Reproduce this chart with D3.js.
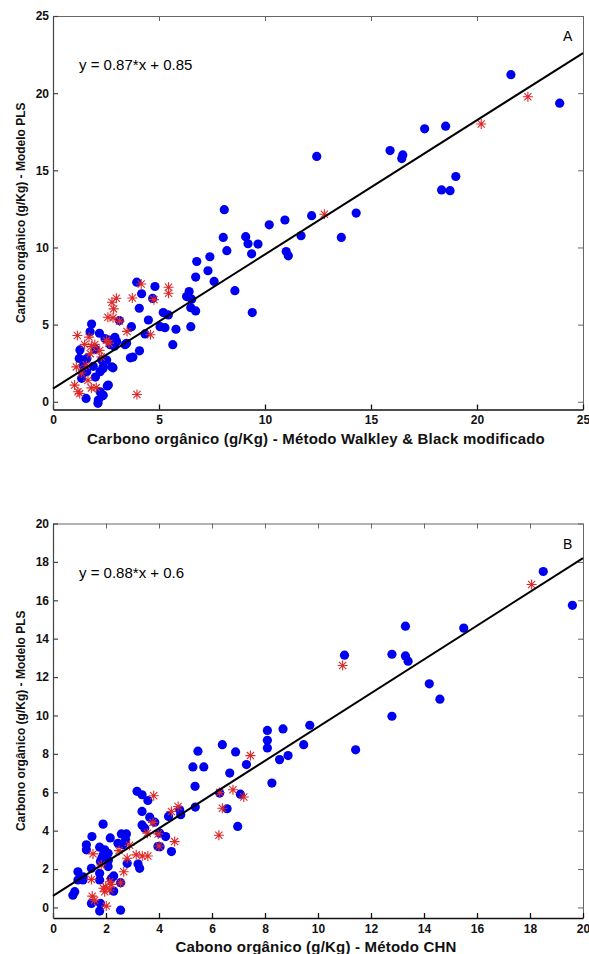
<!DOCTYPE html>
<html>
<head>
<meta charset="utf-8">
<script src="https://cdn.jsdelivr.net/npm/d3@7"></script>
<style>
  body { margin: 0; background: #fff; }
  text { font-family: "Liberation Sans", Arial, sans-serif; }
</style>
</head>
<body>
<div id="vis"></div>
<script>
const FRAME_WIDTH = 589;
const FRAME_HEIGHT = 954;

// panel A data (x = Walkley & Black, y = PLS model)
const A_BLUE = [
  [21.6,21.2],[23.9,19.35],[12.44,15.9],[15.9,16.28],[16.5,16.0],[16.45,15.76],[17.53,17.69],[18.52,17.86],
  [19.0,14.6],[18.33,13.73],[18.73,13.68],[12.2,12.06],[14.3,12.23],[13.6,10.65],[11.7,10.76],
  [8.08,12.45],[10.2,11.47],[10.94,11.78],[8.03,10.65],[9.09,10.7],[9.2,10.24],[9.67,10.22],[8.2,9.79],
  [9.37,9.59],[11.0,9.74],[11.1,9.46],[6.78,9.09],[7.4,9.4],[7.31,8.49],[6.73,8.08],[7.6,7.8],[8.58,7.2],
  [4.81,7.47],[6.42,7.14],[6.3,6.82],[6.54,6.65],[6.5,6.1],[6.73,5.89],[9.4,5.78],[5.2,5.78],[5.44,5.63],
  [5.05,4.87],[5.28,4.8],[5.8,4.7],[6.5,4.87],
  [3.95,7.75],[4.18,7.0],[4.7,6.7],[4.07,6.06],[4.5,5.3],[3.13,5.26],[3.7,4.87],[4.34,4.4],[3.4,3.7],
  [4.08,3.3],[3.65,2.85],[3.77,2.9],[5.65,3.7],
  [1.82,5.04],[1.75,4.54],[2.19,4.44],[2.45,4.1],[2.66,4.0],[2.92,4.18],[3.0,3.9],[3.47,3.79],[1.27,3.36],
  [1.24,2.81],[1.43,2.32],[1.59,1.95],[1.35,1.52],[2.3,2.7],[2.37,2.27],[2.53,2.7],[2.77,2.27],[2.22,1.95],
  [2.61,1.08],[2.22,0.65],[2.37,0.43],[2.14,0.11],[1.56,0.22],[2.12,-0.1],[2.31,0.37],[2.0,3.4],[1.6,2.8],
  [1.9,2.3],[2.0,1.6],[1.41,1.83],[2.36,2.15],[2.83,2.2],[2.56,1.03],[2.7,3.7],[2.9,3.6]
];
const A_RED = [
  [12.8,12.15],[20.2,18.0],[22.4,19.77],[4.16,7.63],[5.45,7.42],[5.45,7.03],[4.76,6.62],[3.74,6.73],
  [2.99,6.71],[2.78,6.45],[2.86,6.02],[2.59,5.48],[2.83,5.44],[3.14,5.23],[3.49,4.56],[4.6,4.34],
  [1.15,4.3],[1.7,4.19],[1.49,3.72],[1.81,3.59],[1.97,3.72],[2.52,3.98],[2.64,3.8],[2.2,3.33],[1.76,3.12],
  [2.28,2.9],[1.1,2.26],[1.34,1.87],[1.57,2.37],[1.65,1.4],[1.02,1.08],[1.18,0.65],[1.26,0.54],
  [1.81,0.9],[2.04,0.92],[3.96,0.47]
];

// panel B data (x = CHN, y = PLS model)
const B_BLUE = [
  [18.5,17.5],[19.6,15.74],[13.3,14.65],[15.5,14.55],[11.0,13.14],[12.79,13.19],[13.3,13.1],[13.4,12.83],
  [14.2,11.65],[14.6,10.85],[12.79,9.96],[11.42,8.21],
  [9.69,9.49],[9.46,8.48],[8.87,7.91],[8.55,7.7],[8.68,9.3],[8.09,9.22],[8.09,8.71],[8.09,8.31],[8.26,6.48],
  [6.89,8.1],[6.39,8.48],[6.67,7.0],[7.3,7.44],[7.07,5.9],[6.97,4.22],[6.57,5.14],[6.29,5.96],[5.47,8.14],
  [5.28,7.32],[5.69,7.32],[5.36,6.31],[5.37,5.23],[4.78,5.09],[4.82,4.83],[4.36,4.74],
  [3.17,6.05],[3.36,5.87],[3.58,5.57],[3.36,5.0],[3.65,4.7],[3.36,4.3],[3.46,4.13],[3.84,4.44],[4.03,3.87],
  [4.25,3.69],[3.96,3.17],[4.47,2.91],[3.21,2.26],[3.27,2.04],[2.8,2.3],
  [1.89,4.34],[1.47,3.69],[1.26,3.26],[1.26,3.0],[2.16,3.62],[2.45,3.34],[2.58,3.83],[2.77,3.83],[2.74,3.52],
  [2.64,3.26],[1.76,3.14],[1.95,3.0],[1.89,2.73],[2.08,2.82],[1.79,2.39],[2.08,2.13],[1.45,2.04],[0.94,1.86],
  [0.94,1.43],[1.13,1.43],[1.76,1.78],[1.76,1.43],[2.29,1.64],[2.29,0.85],[0.82,0.82],[0.75,0.64],[1.45,0.21],
  [1.79,0.21],[1.76,-0.19],[2.55,-0.14],[2.55,1.29],[1.84,2.55],[2.09,2.46],[1.14,1.59],[2.2,1.5],[4.04,3.16]
];
const B_RED = [
  [18.06,16.82],[10.93,12.6],[7.45,7.91],[6.29,5.99],[6.79,6.13],[7.2,5.75],[6.39,5.17],[6.26,3.76],
  [3.8,5.82],[4.72,5.26],[4.47,5.0],[3.77,4.43],[3.56,3.87],[3.97,3.83],[4.59,3.43],[4.0,3.2],[2.89,3.24],
  [2.49,2.96],[3.14,2.74],[3.58,2.68],[3.37,2.68],[2.8,2.56],[1.51,2.79],[1.82,2.21],[2.67,1.86],[1.45,1.46],
  [2.14,1.34],[1.99,1.08],[1.95,0.82],[2.14,0.91],[2.55,1.29],[1.48,0.59],[1.57,0.38],[2.01,0.07],[1.9,1.0],[2.2,1.2]
];

// fits [slope, intercept]
const A_FIT = [0.87, 0.85];
const B_FIT = [0.88, 0.6];

// ticks
const A_X_TICKS = [0, 5, 10, 15, 20, 25];
const A_Y_TICKS = [0, 5, 10, 15, 20, 25];
const B_X_TICKS = [0, 2, 4, 6, 8, 10, 12, 14, 16, 18, 20];
const B_Y_TICKS = [0, 2, 4, 6, 8, 10, 12, 14, 16, 18, 20];

const Y_LABEL = "Carbono orgânico (g/Kg) - Modelo PLS";
const A_X_LABEL = "Carbono orgânico (g/Kg) - Método Walkley & Black modificado";
const B_X_LABEL = "Cabono orgânico (g/Kg) - Método CHN";
const A_EQ = "y = 0.87*x + 0.85";
const B_EQ = "y = 0.88*x + 0.6";

const FRAME = d3.select("#vis")
                .append("svg")
                .attr("width", FRAME_WIDTH)
                .attr("height", FRAME_HEIGHT)
                .style("background", "#fff");

function star(s) {
  const d = s * 0.72;
  return "M" + (-s) + ",0H" + s + "M0," + (-s) + "V" + s +
         "M" + (-d) + "," + (-d) + "L" + d + "," + d +
         "M" + (-d) + "," + d + "L" + d + "," + (-d);
}

function build_panel(opts) {

  const X_SCALE = d3.scaleLinear().domain(opts.xDomain).range([53, 583]);
  const Y_SCALE = d3.scaleLinear().domain(opts.yDomain).range([opts.bottom, opts.top]);

  const g = FRAME.append("g");

  // box axes (matlab style, ticks inward)
  g.append("g")
   .attr("transform", "translate(0," + opts.top + ")")
   .call(d3.axisTop(X_SCALE).tickValues(opts.xTicks).tickSize(-5).tickSizeOuter(0).tickFormat(""))
   .call(a => a.selectAll("path,line").attr("stroke", "#666"));

  g.append("g")
   .attr("transform", "translate(583,0)")
   .call(d3.axisRight(Y_SCALE).tickValues(opts.yTicks).tickSize(-5).tickSizeOuter(0).tickFormat(""))
   .call(a => a.selectAll("path,line").attr("stroke", "#666"));

  g.append("g")
   .attr("transform", "translate(0," + opts.bottom + ")")
   .call(d3.axisBottom(X_SCALE).tickValues(opts.xTicks).tickSize(-5).tickSizeOuter(0).tickPadding(6))
   .call(a => a.selectAll("path,line").attr("stroke", "#111").attr("stroke-width", 1.3))
   .call(a => a.selectAll("text").attr("font-size", "12px").attr("font-weight", "bold")
                .attr("fill", "#111").attr("font-family", "Liberation Sans, Arial, sans-serif"));

  g.append("g")
   .attr("transform", "translate(53,0)")
   .call(d3.axisLeft(Y_SCALE).tickValues(opts.yTicks).tickSize(-5).tickSizeOuter(0).tickPadding(4))
   .call(a => a.selectAll("path,line").attr("stroke", "#444").attr("stroke-width", 1.2))
   .call(a => a.selectAll("text").attr("font-size", "12px").attr("font-weight", "bold")
                .attr("fill", "#111").attr("font-family", "Liberation Sans, Arial, sans-serif"));

  // points
  g.selectAll(".dot")
   .data(opts.blue)
   .enter()
   .append("circle")
     .attr("cx", d => X_SCALE(d[0]))
     .attr("cy", d => Y_SCALE(d[1]))
     .attr("r", 4.6)
     .attr("fill", "#0000f0");

  g.selectAll(".star")
   .data(opts.red)
   .enter()
   .append("path")
     .attr("d", star(5))
     .attr("transform", d => "translate(" + X_SCALE(d[0]) + "," + Y_SCALE(d[1]) + ")")
     .attr("fill", "none")
     .attr("stroke", "#e02828")
     .attr("stroke-width", 1.1);

  // fitted line
  const x0 = opts.xDomain[0], x1 = opts.xDomain[1];
  g.append("line")
   .attr("x1", X_SCALE(x0)).attr("y1", Y_SCALE(opts.fit[0] * x0 + opts.fit[1]))
   .attr("x2", X_SCALE(x1)).attr("y2", Y_SCALE(opts.fit[0] * x1 + opts.fit[1]))
   .attr("stroke", "#000")
   .attr("stroke-width", 2);

  // texts
  g.append("text")
   .attr("x", 79).attr("y", opts.top + 54)
   .attr("font-size", "15px")
   .text(opts.eq);

  g.append("text")
   .attr("x", 563).attr("y", opts.top + 25)
   .attr("font-size", "14px")
   .text(opts.letter);

  g.append("text")
   .attr("x", 316).attr("y", opts.bottom + 34)
   .attr("text-anchor", "middle")
   .attr("font-size", "15px")
   .attr("letter-spacing", "0.2px")
   .attr("font-weight", "bold")
   .attr("fill", "#111")
   .text(opts.xLabel);

  g.append("text")
   .attr("transform", "translate(25," + ((opts.top + opts.bottom) / 2) + ") rotate(-90)")
   .attr("text-anchor", "middle")
   .attr("font-size", "12px")
   .attr("font-weight", "bold")
   .attr("fill", "#111")
   .text(Y_LABEL);
}

build_panel({xDomain: [0, 25], yDomain: [-0.5, 25], top: 16, bottom: 409.5,
             xTicks: A_X_TICKS, yTicks: A_Y_TICKS, blue: A_BLUE, red: A_RED, fit: A_FIT,
             eq: A_EQ, letter: "A", xLabel: A_X_LABEL});

build_panel({xDomain: [0, 20], yDomain: [-0.55, 20], top: 523.5, bottom: 918,
             xTicks: B_X_TICKS, yTicks: B_Y_TICKS, blue: B_BLUE, red: B_RED, fit: B_FIT,
             eq: B_EQ, letter: "B", xLabel: B_X_LABEL});
</script>
</body>
</html>
